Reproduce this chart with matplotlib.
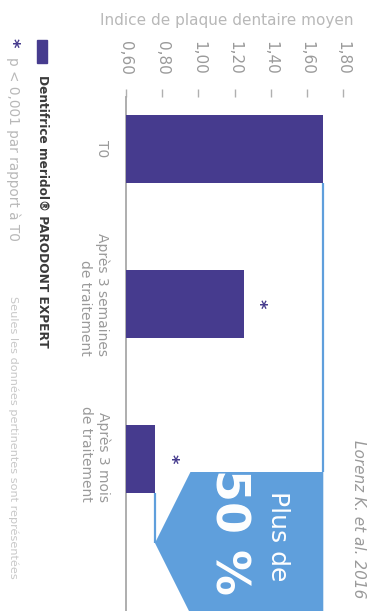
import matplotlib
matplotlib.use("Agg")
import matplotlib.pyplot as plt
from matplotlib.patches import Polygon, Rectangle
import matplotlib.transforms as mtransforms

# ---- data ----
categories = ["T0", "Après 3 semaines\nde traitement", "Après 3 mois\nde traitement"]
values = [1.69, 1.25, 0.76]
significant = [False, True, True]
ticks = [0.60, 0.80, 1.00, 1.20, 1.40, 1.60, 1.80]
tick_labels = ["0,60", "0,80", "1,00", "1,20", "1,40", "1,60", "1,80"]
axis_title = "Indice de plaque dentaire moyen"
legend_label = "Dentifrice meridol® PARODONT EXPERT"
signif_note = "p < 0,001 par rapport à T0"
footnote = "Seules les données pertinentes sont représentées"
callout_top = "Plus de"
callout_big = "50 %"
source = "Lorenz K. et al. 2016"

# ---- style ----
W, H = 371, 611
DPI = 100
bar_color = "#463b8e"
blue = "#5f9fdc"
grey = "#9a9a9a"
lgrey = "#b8b8b8"
dark = "#3a3a3a"
plt.rcParams["font.family"] = ["DejaVu Sans"]

fig = plt.figure(figsize=(W / DPI, H / DPI), dpi=DPI)

def fx(px):
    return px / W

def fy(py):
    return 1 - py / H

ax_left, ax_top = 126, 97
ax = fig.add_axes([fx(ax_left), 0, 1 - fx(ax_left), fy(ax_top)])

px_per_unit = 181.0
cat_pitch = 155.0
first_center = 149.0
ax.set_xlim(0.6, 0.6 + (W - ax_left) / px_per_unit)
ax.set_ylim((H - first_center) / cat_pitch, -(first_center - ax_top) / cat_pitch)

ypos = list(range(len(categories)))
bar_h = 68 / cat_pitch
ax.barh(ypos, [v - 0.6 for v in values], left=0.6, height=bar_h,
        color=bar_color, zorder=3)

for spine in ["top", "right", "bottom"]:
    ax.spines[spine].set_visible(False)
ax.spines["left"].set_color("#a8a8a8")
ax.spines["left"].set_linewidth(1.3)

ax.xaxis.tick_top()
ax.set_xticks(ticks)
ax.set_xticklabels(tick_labels, rotation=270, fontsize=11, color=grey)
ax.tick_params(axis="x", direction="out", length=6, width=1, color="#b0b0b0", pad=10)
ax.set_yticks([])

# significance stars
for y, v, s in zip(ypos, values, significant):
    if s:
        ax.annotate("*", xy=(v, y), xytext=(11, 0), textcoords="offset points",
                    ha="center", va="center", fontsize=13, fontweight="bold",
                    color=bar_color, rotation=270)

# category labels
trans_lab = mtransforms.blended_transform_factory(fig.transFigure, ax.transData)
lab_x = [fx(102), fx(94), fx(95)]
lab_dy = [0.0, -0.06, -0.03]
for y, lab, lx, dy in zip(ypos, categories, lab_x, lab_dy):
    fig.text(lx, y + dy, lab, transform=trans_lab, rotation=270, ha="center",
             va="center", multialignment="right", fontsize=10, color=grey,
             linespacing=1.25)

# bracket / callout
y_bar_end = ypos[0] + bar_h / 2
y_top = (472 - first_center) / cat_pitch
y_tip = (543 - first_center) / cat_pitch
y_bot = y_tip + (y_tip - y_top)
x_left = values[2] + (y_tip - y_top) * cat_pitch * 0.5 / px_per_unit
ax.plot([values[0], values[0]], [y_bar_end, y_top], color=blue, lw=1.6,
        zorder=2, solid_capstyle="butt")
ax.plot([values[2], values[2]], [ypos[2] + bar_h / 2, y_tip], color=blue, lw=1.6,
        zorder=2, solid_capstyle="butt")
poly = Polygon([(values[0], y_top), (x_left, y_top), (values[2], y_tip),
                (x_left, y_bot), (values[0], y_bot)], closed=True,
               facecolor=blue, edgecolor="none", zorder=2)
ax.add_patch(poly)

ax.text(fx(278), fy(536), callout_top, transform=fig.transFigure, rotation=270,
        ha="center", va="center", fontsize=18, color="white")
ax.text(fx(228), fy(532), callout_big, transform=fig.transFigure, rotation=270,
        ha="center", va="center", fontsize=33, fontweight="bold", color="white")
fig.text(fx(358), fy(440), source, rotation=270, ha="center", va="top",
         fontsize=11, style="italic", color=grey)

# axis title
fig.text(fx(100), fy(20), axis_title, ha="left", va="center", fontsize=11,
         color=lgrey)

# legend
fig.add_artist(Rectangle((fx(37), fy(63)), fx(10), (63 - 40) / H,
                         transform=fig.transFigure, color=bar_color))
fig.text(fx(42), fy(75), legend_label, rotation=270, ha="center", va="top",
         fontsize=8.7, fontweight="bold", color=dark)
fig.text(fx(12), fy(43), "*", rotation=270, ha="center", va="center",
         fontsize=13, fontweight="bold", color=bar_color)
fig.text(fx(13), fy(57), signif_note, rotation=270, ha="center", va="top",
         fontsize=9.8, color=lgrey)
fig.text(fx(13), fy(296), footnote, rotation=270, ha="center", va="top",
         fontsize=8.1, color="#c8c8c8")

fig.savefig("out.png", dpi=DPI)
